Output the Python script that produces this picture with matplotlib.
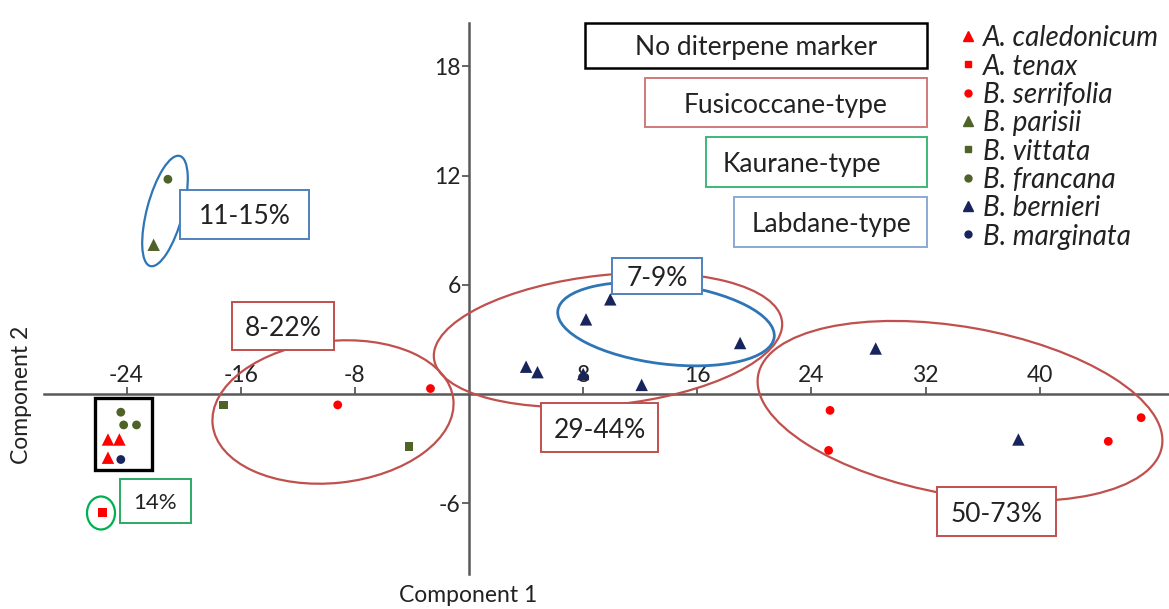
import matplotlib
matplotlib.use("Agg")
import matplotlib.pyplot as plt
from matplotlib.patches import Ellipse, Rectangle
from matplotlib.transforms import Affine2D
from matplotlib.lines import Line2D

# ---------------- data ----------------
species = ["A. caledonicum", "A. tenax", "B. serrifolia", "B. parisii",
           "B. vittata", "B. francana", "B. bernieri", "B. marginata"]
markers = ["^", "s", "o", "^", "s", "o", "^", "o"]
colors = ["#FF0000", "#FF0000", "#FF0000", "#4F6228",
          "#4F6228", "#4F6228", "#17255C", "#17255C"]

a_caledonicum_x = [-25.3, -24.5, -25.3]
a_caledonicum_y = [-2.5, -2.5, -3.5]
a_tenax_x = [-25.7]
a_tenax_y = [-6.5]
b_serrifolia_x = [-2.7, -9.2, 25.3, 25.2, 47.1, 44.8]
b_serrifolia_y = [0.3, -0.6, -0.9, -3.1, -1.3, -2.6]
b_parisii_x = [-22.1]
b_parisii_y = [8.2]
b_vittata_x = [-17.2, -4.2]
b_vittata_y = [-0.6, -2.9]
b_francana_x = [-21.1, -24.4, -24.2, -23.3]
b_francana_y = [11.8, -1.0, -1.7, -1.7]
b_bernieri_x = [9.9, 8.2, 19.0, 4.0, 4.8, 8.0, 12.1, 28.5, 38.5]
b_bernieri_y = [5.2, 4.1, 2.8, 1.5, 1.2, 1.1, 0.5, 2.5, -2.5]
b_marginata_x = [-24.4]
b_marginata_y = [-3.6]

xs = [a_caledonicum_x, a_tenax_x, b_serrifolia_x, b_parisii_x,
      b_vittata_x, b_francana_x, b_bernieri_x, b_marginata_x]
ys = [a_caledonicum_y, a_tenax_y, b_serrifolia_y, b_parisii_y,
      b_vittata_y, b_francana_y, b_bernieri_y, b_marginata_y]

x_ticks = [-24, -16, -8, 8, 16, 24, 32, 40]
y_ticks = [-6, 6, 12, 18]

# ---------------- layout ----------------
W, H, DPI = 1169, 609, 100
SX, SY = 14.27, 18.2       # px per data unit
OX, OY = 469, 394          # pixel position of origin

FONT = ["Lato", "DejaVu Sans"]
plt.rcParams["font.family"] = FONT
plt.rcParams["axes.unicode_minus"] = False

fig = plt.figure(figsize=(W / DPI, H / DPI), dpi=DPI)
ax = fig.add_axes([0, 0, 1, 1])
ax.set_xlim(-OX / SX, (W - OX) / SX)
ax.set_ylim((OY - H) / SY, OY / SY)
ax.patch.set_alpha(0)

axis_col = "#595959"
for s in ["right", "bottom"]:
    ax.spines[s].set_visible(False)
ax.spines["left"].set_position(("data", 0))
ax.spines["top"].set_position(("data", 0))
for s in ["left", "top"]:
    ax.spines[s].set_color(axis_col)
    ax.spines[s].set_linewidth(1.8)
ax.spines["left"].set_bounds((OY - 574) / SY, (OY - 23) / SY)
ax.spines["top"].set_bounds((44 - OX) / SX, (W - OX) / SX)
ax.xaxis.set_ticks_position("top")
ax.yaxis.set_ticks_position("left")
ax.set_xticks(x_ticks)
ax.set_yticks(y_ticks)
ax.tick_params(axis="both", direction="out", length=5, width=1.3,
               color=axis_col, labelsize=16.5, labelcolor="#222222", pad=1)

# pixel transform (y down) for annotation layout
pix = Affine2D().scale(1 / DPI, -1 / DPI).translate(0, H / DPI) + fig.dpi_scale_trans

fig.text(468 / W, 1 - 596 / H, "Component 1", ha="center", va="center",
         fontsize=16.5, color="#222222")
fig.text(22 / W, 1 - 395 / H, "Component 2", ha="center", va="center",
         rotation=90, fontsize=16.5, color="#222222")

RED = "#C0504D"
BLUE = "#2E75B6"
GREEN = "#00B050"

def ell(cx, cy, a, b, ang, col, lw=1.6):
    e = Ellipse((cx, cy), 2 * a, 2 * b, angle=-ang, transform=pix,
                fill=False, edgecolor=col, linewidth=lw, zorder=3)
    ax.add_patch(e)

def box(x0, y0, x1, y1, txt, col, fs=19, lw=1.4, tx=None):
    r = Rectangle((x0, y0), x1 - x0, y1 - y0, transform=pix,
                  facecolor="white", edgecolor=col, linewidth=lw, zorder=4)
    ax.add_patch(r)
    cx = (x0 + x1) / 2 if tx is None else tx
    ax.text(cx, (y0 + y1) / 2, txt, transform=pix, ha="center",
            va="center_baseline", fontsize=fs, color="#222222", zorder=5)

# ellipses
ell(165, 211, 57, 18, 75, BLUE)
ell(101, 513, 14, 16.5, 0, GREEN)
ell(333, 412, 121, 71, 6, RED)
ell(608, 340, 175, 65, 6, RED)
ell(666, 324, 109, 40, -7, BLUE, lw=2.0)
ell(960, 411, 205, 84, -10, RED)

# black box around the unmarked group
ax.add_patch(Rectangle((95, 398), 57, 72, transform=pix, fill=False,
                       edgecolor="black", linewidth=2.4, zorder=3))

# label boxes
box(180, 190, 309, 239, "11-15%", "#4F81BD")
box(232, 302, 334, 350, "8-22%", RED)
box(120, 479, 191, 523, "14%", "#2FA866", fs=16)
box(612, 258, 702, 294, "7-9%", "#4F81BD")
box(541, 403, 658, 452, "29-44%", RED)
box(937, 487, 1056, 536, "50-73%", RED)

box(585, 23, 927, 68, "No diterpene marker", "black", lw=1.8)
box(645, 78, 927, 127, "Fusicoccane-type", "#D07A7A")
box(706, 137, 927, 187, "Kaurane-type", "#3CB878", tx=802)
box(734, 197, 927, 247, "Labdane-type", "#8AAAD4", tx=832)

# data points
sizes = {"^": 80, "s": 40, "o": 40}
for x, y, m, c, lab in zip(xs, ys, markers, colors, species):
    ax.scatter(x, y, marker=m, s=sizes[m], color=c, edgecolors="none",
               zorder=6, label=lab)

# legend (manual rows)
for i, (m, c, lab) in enumerate(zip(markers, colors, species)):
    yrow = 36 + 28.3 * i
    ax.add_line(Line2D([968], [yrow], transform=pix, linestyle="none",
                       marker=m, color=c, markersize=(7.5 if m == "^" else 5)))
    ax.text(983, yrow, lab, transform=pix, ha="left", va="center_baseline",
            fontsize=20, style="italic", color="#222222")

fig.savefig("out.png", dpi=DPI)
